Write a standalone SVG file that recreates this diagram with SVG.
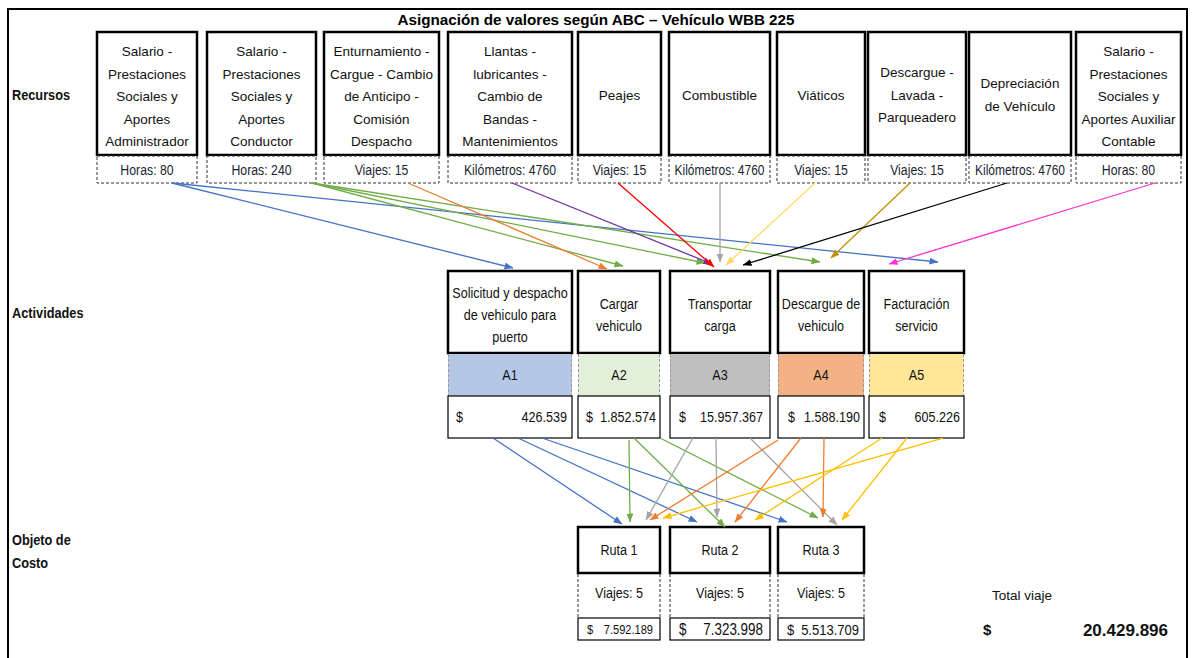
<svg xmlns="http://www.w3.org/2000/svg" width="1193" height="658" viewBox="0 0 1193 658">
<style>
.bg{fill:#fff}
.frame{fill:none;stroke:#000;stroke-width:2}
.box{fill:#fff;stroke:#000;stroke-width:2.5}
.dbox{fill:#fff;stroke:#333;stroke-width:1;stroke-dasharray:3 2}
.vbox{fill:#fff;stroke:#000;stroke-width:1.2}
.cside{stroke:#999;stroke-width:1;stroke-dasharray:3 2;fill:none}
.rt{font-family:"Liberation Sans",Arial,sans-serif;font-size:13.5px;fill:#111;text-anchor:middle}
.nt{font-family:"Liberation Sans",Arial,sans-serif;font-size:15px;fill:#111}
.dl{font-family:"Liberation Sans",Arial,sans-serif;font-size:15px;fill:#1a1f33;text-anchor:middle}
.c{text-anchor:middle}
.e{text-anchor:end}
.lab{font-family:"Liberation Sans",Arial,sans-serif;font-size:15px;font-weight:bold;fill:#111}
.title{font-family:"Liberation Sans",Arial,sans-serif;font-size:15px;font-weight:bold;fill:#000;text-anchor:middle}
.ln{fill:none;stroke-width:1.3}
</style>
<defs>
<marker id="m-blue" markerUnits="userSpaceOnUse" markerWidth="9" markerHeight="8" refX="8.5" refY="4" orient="auto"><path d="M0,0.5 L9,4 L0,7.5 z" fill="#4472C4"/></marker>
<marker id="m-green" markerUnits="userSpaceOnUse" markerWidth="9" markerHeight="8" refX="8.5" refY="4" orient="auto"><path d="M0,0.5 L9,4 L0,7.5 z" fill="#70AD47"/></marker>
<marker id="m-orange" markerUnits="userSpaceOnUse" markerWidth="9" markerHeight="8" refX="8.5" refY="4" orient="auto"><path d="M0,0.5 L9,4 L0,7.5 z" fill="#ED7D31"/></marker>
<marker id="m-purple" markerUnits="userSpaceOnUse" markerWidth="9" markerHeight="8" refX="8.5" refY="4" orient="auto"><path d="M0,0.5 L9,4 L0,7.5 z" fill="#7030A0"/></marker>
<marker id="m-red" markerUnits="userSpaceOnUse" markerWidth="9" markerHeight="8" refX="8.5" refY="4" orient="auto"><path d="M0,0.5 L9,4 L0,7.5 z" fill="#FF0000"/></marker>
<marker id="m-gray" markerUnits="userSpaceOnUse" markerWidth="9" markerHeight="8" refX="8.5" refY="4" orient="auto"><path d="M0,0.5 L9,4 L0,7.5 z" fill="#A5A5A5"/></marker>
<marker id="m-ltyellow" markerUnits="userSpaceOnUse" markerWidth="9" markerHeight="8" refX="8.5" refY="4" orient="auto"><path d="M0,0.5 L9,4 L0,7.5 z" fill="#FFD966"/></marker>
<marker id="m-gold" markerUnits="userSpaceOnUse" markerWidth="9" markerHeight="8" refX="8.5" refY="4" orient="auto"><path d="M0,0.5 L9,4 L0,7.5 z" fill="#BF9000"/></marker>
<marker id="m-black" markerUnits="userSpaceOnUse" markerWidth="9" markerHeight="8" refX="8.5" refY="4" orient="auto"><path d="M0,0.5 L9,4 L0,7.5 z" fill="#000"/></marker>
<marker id="m-magenta" markerUnits="userSpaceOnUse" markerWidth="9" markerHeight="8" refX="8.5" refY="4" orient="auto"><path d="M0,0.5 L9,4 L0,7.5 z" fill="#FF33CC"/></marker>
<marker id="m-yellow" markerUnits="userSpaceOnUse" markerWidth="9" markerHeight="8" refX="8.5" refY="4" orient="auto"><path d="M0,0.5 L9,4 L0,7.5 z" fill="#FFC000"/></marker>
</defs>
<rect class="bg" x="0" y="0" width="1193" height="658"/>
<path class="frame" d="M8,662 L8,9 L1187,9 L1187,662"/>
<text class="title" x="596" y="25" textLength="397" lengthAdjust="spacingAndGlyphs">Asignación de valores según ABC – Vehículo WBB 225</text>

<text class="lab" transform="translate(12 100) scale(.85 1)">Recursos</text>
<text class="lab" transform="translate(12 318) scale(.85 1)">Actividades</text>
<text class="lab" transform="translate(12 545) scale(.85 1)">Objeto de</text>
<text class="lab" transform="translate(12 568) scale(.85 1)">Costo</text>

<!-- Resources -->
<g id="r1"><rect class="box" x="97" y="32" width="100" height="123"/><rect class="dbox" x="97" y="156" width="100" height="27"/>
<text class="rt" x="147" y="56">Salario -</text><text class="rt" x="147" y="78.5">Prestaciones</text><text class="rt" x="147" y="101">Sociales y</text><text class="rt" x="147" y="123.5">Aportes</text><text class="rt" x="147" y="146">Administrador</text>
<text class="dl" transform="translate(147 175) scale(.82 1)">Horas: 80</text></g>
<g id="r2"><rect class="box" x="207" y="32" width="109" height="123"/><rect class="dbox" x="207" y="156" width="109" height="27"/>
<text class="rt" x="261.5" y="56">Salario -</text><text class="rt" x="261.5" y="78.5">Prestaciones</text><text class="rt" x="261.5" y="101">Sociales y</text><text class="rt" x="261.5" y="123.5">Aportes</text><text class="rt" x="261.5" y="146">Conductor</text>
<text class="dl" transform="translate(261.5 175) scale(.82 1)">Horas: 240</text></g>
<g id="r3"><rect class="box" x="324" y="32" width="115" height="123"/><rect class="dbox" x="324" y="156" width="115" height="27"/>
<text class="rt" x="381.5" y="56">Enturnamiento -</text><text class="rt" x="381.5" y="78.5">Cargue - Cambio</text><text class="rt" x="381.5" y="101">de Anticipo -</text><text class="rt" x="381.5" y="123.5">Comisión</text><text class="rt" x="381.5" y="146">Despacho</text>
<text class="dl" transform="translate(381.5 175) scale(.82 1)">Viajes: 15</text></g>
<g id="r4"><rect class="box" x="448" y="32" width="124" height="123"/><rect class="dbox" x="448" y="156" width="124" height="27"/>
<text class="rt" x="510" y="56">Llantas -</text><text class="rt" x="510" y="78.5">lubricantes -</text><text class="rt" x="510" y="101">Cambio de</text><text class="rt" x="510" y="123.5">Bandas -</text><text class="rt" x="510" y="146">Mantenimientos</text>
<text class="dl" transform="translate(510 175) scale(.82 1)">Kilómetros: 4760</text></g>
<g id="r5"><rect class="box" x="578" y="32" width="83" height="123"/><rect class="dbox" x="578" y="156" width="83" height="27"/>
<text class="rt" x="619.5" y="100">Peajes</text>
<text class="dl" transform="translate(619.5 175) scale(.82 1)">Viajes: 15</text></g>
<g id="r6"><rect class="box" x="669" y="32" width="101" height="123"/><rect class="dbox" x="669" y="156" width="101" height="27"/>
<text class="rt" x="719.5" y="100">Combustible</text>
<text class="dl" transform="translate(719.5 175) scale(.8 1)">Kilómetros: 4760</text></g>
<g id="r7"><rect class="box" x="777" y="32" width="88" height="123"/><rect class="dbox" x="777" y="156" width="88" height="27"/>
<text class="rt" x="821" y="100">Viáticos</text>
<text class="dl" transform="translate(821 175) scale(.82 1)">Viajes: 15</text></g>
<g id="r8"><rect class="box" x="868" y="32" width="98" height="123"/><rect class="dbox" x="868" y="156" width="98" height="27"/>
<text class="rt" x="917" y="77">Descargue -</text><text class="rt" x="917" y="99.5">Lavada -</text><text class="rt" x="917" y="122">Parqueadero</text>
<text class="dl" transform="translate(917 175) scale(.82 1)">Viajes: 15</text></g>
<g id="r9"><rect class="box" x="969" y="32" width="102" height="123"/><rect class="dbox" x="969" y="156" width="102" height="27"/>
<text class="rt" x="1020" y="88">Depreciación</text><text class="rt" x="1020" y="111">de Vehículo</text>
<text class="dl" transform="translate(1020 175) scale(.8 1)">Kilómetros: 4760</text></g>
<g id="r10"><rect class="box" x="1076" y="32" width="105" height="123"/><rect class="dbox" x="1076" y="156" width="105" height="27"/>
<text class="rt" x="1128.5" y="56">Salario -</text><text class="rt" x="1128.5" y="78.5">Prestaciones</text><text class="rt" x="1128.5" y="101">Sociales y</text><text class="rt" x="1128.5" y="123.5">Aportes Auxiliar</text><text class="rt" x="1128.5" y="146">Contable</text>
<text class="dl" transform="translate(1128.5 175) scale(.82 1)">Horas: 80</text></g>

<!-- Activities -->
<g id="a1"><rect class="box" x="448" y="271" width="124" height="82"/>
<text class="nt c" transform="translate(510 298) scale(.84 1)">Solicitud y despacho</text>
<text class="nt c" transform="translate(510 320) scale(.84 1)">de vehiculo para</text>
<text class="nt c" transform="translate(510 342) scale(.84 1)">puerto</text>
<rect x="448" y="354" width="124" height="42" fill="#B4C7E7"/>
<path class="cside" d="M448.5,354 V396 M571.5,354 V396"/>
<text class="nt c" transform="translate(510 380) scale(.84 1)">A1</text>
<rect class="vbox" x="448" y="396" width="124" height="42"/>
<text class="nt" transform="translate(456 422) scale(.84 1)">$</text><text class="nt e" transform="translate(567 422) scale(.84 1)">426.539</text></g>
<g id="a2"><rect class="box" x="578" y="271" width="82" height="82"/>
<text class="nt c" transform="translate(619 309) scale(.84 1)">Cargar</text>
<text class="nt c" transform="translate(619 331) scale(.84 1)">vehiculo</text>
<rect x="578" y="354" width="82" height="42" fill="#E2EFDA"/>
<path class="cside" d="M578.5,354 V396 M659.5,354 V396"/>
<text class="nt c" transform="translate(619 380) scale(.84 1)">A2</text>
<rect class="vbox" x="578" y="396" width="82" height="42"/>
<text class="nt" transform="translate(586 422) scale(.84 1)">$</text><text class="nt e" transform="translate(656 422) scale(.84 1)">1.852.574</text></g>
<g id="a3"><rect class="box" x="670" y="271" width="100" height="82"/>
<text class="nt c" transform="translate(720 309) scale(.84 1)">Transportar</text>
<text class="nt c" transform="translate(720 331) scale(.84 1)">carga</text>
<rect x="670" y="354" width="100" height="42" fill="#BFBFBF"/>
<path class="cside" d="M670.5,354 V396 M769.5,354 V396"/>
<text class="nt c" transform="translate(720 380) scale(.84 1)">A3</text>
<rect class="vbox" x="670" y="396" width="100" height="42"/>
<text class="nt" transform="translate(679 422) scale(.84 1)">$</text><text class="nt e" transform="translate(763 422) scale(.84 1)">15.957.367</text></g>
<g id="a4"><rect class="box" x="778" y="271" width="86" height="82"/>
<text class="nt c" transform="translate(821 309) scale(.84 1)">Descargue de</text>
<text class="nt c" transform="translate(821 331) scale(.84 1)">vehiculo</text>
<rect x="778" y="354" width="86" height="42" fill="#F4B183"/>
<path class="cside" d="M778.5,354 V396 M863.5,354 V396"/>
<text class="nt c" transform="translate(821 380) scale(.84 1)">A4</text>
<rect class="vbox" x="778" y="396" width="86" height="42"/>
<text class="nt" transform="translate(788 422) scale(.84 1)">$</text><text class="nt e" transform="translate(860 422) scale(.84 1)">1.588.190</text></g>
<g id="a5"><rect class="box" x="869" y="271" width="95" height="82"/>
<text class="nt c" transform="translate(916.5 309) scale(.84 1)">Facturación</text>
<text class="nt c" transform="translate(916.5 331) scale(.84 1)">servicio</text>
<rect x="869" y="354" width="95" height="42" fill="#FFE699"/>
<path class="cside" d="M869.5,354 V396 M963.5,354 V396"/>
<text class="nt c" transform="translate(916.5 380) scale(.84 1)">A5</text>
<rect class="vbox" x="869" y="396" width="95" height="42"/>
<text class="nt" transform="translate(879 422) scale(.84 1)">$</text><text class="nt e" transform="translate(960 422) scale(.84 1)">605.226</text></g>

<!-- Cost objects -->
<g id="ruta1"><rect class="box" x="578" y="527" width="82" height="46"/>
<text class="nt c" transform="translate(619 555) scale(.84 1)">Ruta 1</text>
<path d="M578,574 V617 M660,574 V617" stroke="#333" stroke-width="1" stroke-dasharray="3 2"/>
<text class="nt c" transform="translate(619 598) scale(.84 1)">Viajes: 5</text>
<rect class="vbox" x="578" y="618" width="82" height="22"/>
<text class="nt" transform="translate(587 634) scale(.82 1)" style="font-size:13.5px">$</text><text class="nt e" transform="translate(653 634) scale(.82 1)" style="font-size:13.5px">7.592.189</text></g>
<g id="ruta2"><rect class="box" x="670" y="527" width="100" height="46"/>
<text class="nt c" transform="translate(720 555) scale(.84 1)">Ruta 2</text>
<path d="M670,574 V617 M770,574 V617" stroke="#333" stroke-width="1" stroke-dasharray="3 2"/>
<text class="nt c" transform="translate(720 598) scale(.84 1)">Viajes: 5</text>
<rect class="vbox" x="670" y="618" width="100" height="22"/>
<text class="nt" transform="translate(679 635) scale(.84 1)" style="font-size:16px">$</text><text class="nt e" transform="translate(763 635) scale(.84 1)" style="font-size:16px">7.323.998</text></g>
<g id="ruta3"><rect class="box" x="778" y="527" width="86" height="46"/>
<text class="nt c" transform="translate(821 555) scale(.84 1)">Ruta 3</text>
<path d="M778,574 V617 M864,574 V617" stroke="#333" stroke-width="1" stroke-dasharray="3 2"/>
<text class="nt c" transform="translate(821 598) scale(.84 1)">Viajes: 5</text>
<rect class="vbox" x="778" y="618" width="86" height="22"/>
<text class="nt" transform="translate(787 635) scale(.84 1)" style="font-size:15.5px">$</text><text class="nt e" transform="translate(859 635) scale(.84 1)" style="font-size:15.5px">5.513.709</text></g>

<g id="total">
<text class="nt" x="992" y="600" style="font-size:13.5px" textLength="60" lengthAdjust="spacingAndGlyphs">Total viaje</text>
<text class="lab" x="983" y="635">$</text>
<text class="lab e" x="1168" y="636" style="font-size:17px">20.429.896</text>
</g>

<g id="connectors">
<line class="ln" x1="172" y1="183" x2="513" y2="268" stroke="#4472C4" marker-end="url(#m-blue)"/>
<line class="ln" x1="172" y1="183" x2="938" y2="262" stroke="#4472C4" marker-end="url(#m-blue)"/>
<line class="ln" x1="312" y1="183" x2="623" y2="266" stroke="#70AD47" marker-end="url(#m-green)"/>
<line class="ln" x1="312" y1="183" x2="705" y2="263" stroke="#70AD47" marker-end="url(#m-green)"/>
<line class="ln" x1="312" y1="183" x2="820" y2="262" stroke="#70AD47" marker-end="url(#m-green)"/>
<line class="ln" x1="408" y1="183" x2="607" y2="269" stroke="#ED7D31" marker-end="url(#m-orange)"/>
<line class="ln" x1="512" y1="183" x2="712" y2="264" stroke="#7030A0" marker-end="url(#m-purple)"/>
<line class="ln" x1="618" y1="183" x2="714" y2="267" stroke="#FF0000" marker-end="url(#m-red)"/>
<line class="ln" x1="720" y1="183" x2="720" y2="262" stroke="#A5A5A5" marker-end="url(#m-gray)"/>
<line class="ln" x1="815" y1="183" x2="726" y2="265" stroke="#FFD966" marker-end="url(#m-ltyellow)"/>
<line class="ln" x1="910" y1="183" x2="831" y2="258" stroke="#BF9000" marker-end="url(#m-gold)"/>
<line class="ln" x1="1007" y1="183" x2="743" y2="265" stroke="#000" marker-end="url(#m-black)"/>
<line class="ln" x1="1155" y1="183" x2="889" y2="264" stroke="#FF33CC" marker-end="url(#m-magenta)"/>

<line class="ln" x1="493" y1="438" x2="622" y2="524" stroke="#4472C4" marker-end="url(#m-blue)"/>
<line class="ln" x1="518" y1="438" x2="697" y2="522" stroke="#4472C4" marker-end="url(#m-blue)"/>
<line class="ln" x1="542" y1="438" x2="787" y2="522" stroke="#4472C4" marker-end="url(#m-blue)"/>
<line class="ln" x1="629" y1="440" x2="630" y2="522" stroke="#70AD47" marker-end="url(#m-green)"/>
<line class="ln" x1="634" y1="438" x2="725" y2="527" stroke="#70AD47" marker-end="url(#m-green)"/>
<line class="ln" x1="660" y1="438" x2="818" y2="518" stroke="#70AD47" marker-end="url(#m-green)"/>
<line class="ln" x1="693" y1="438" x2="646" y2="520" stroke="#A5A5A5" marker-end="url(#m-gray)"/>
<line class="ln" x1="716" y1="438" x2="717" y2="517" stroke="#A5A5A5" marker-end="url(#m-gray)"/>
<line class="ln" x1="750" y1="438" x2="837" y2="525" stroke="#A5A5A5" marker-end="url(#m-gray)"/>
<line class="ln" x1="778" y1="440" x2="650" y2="520" stroke="#ED7D31" marker-end="url(#m-orange)"/>
<line class="ln" x1="801" y1="438" x2="735" y2="522" stroke="#ED7D31" marker-end="url(#m-orange)"/>
<line class="ln" x1="824" y1="438" x2="823" y2="517" stroke="#ED7D31" marker-end="url(#m-orange)"/>
<line class="ln" x1="943" y1="438" x2="663" y2="518" stroke="#FFC000" marker-end="url(#m-yellow)"/>
<line class="ln" x1="882" y1="438" x2="755" y2="520" stroke="#FFC000" marker-end="url(#m-yellow)"/>
<line class="ln" x1="907" y1="438" x2="842" y2="520" stroke="#FFC000" marker-end="url(#m-yellow)"/>
</g>
</svg>
